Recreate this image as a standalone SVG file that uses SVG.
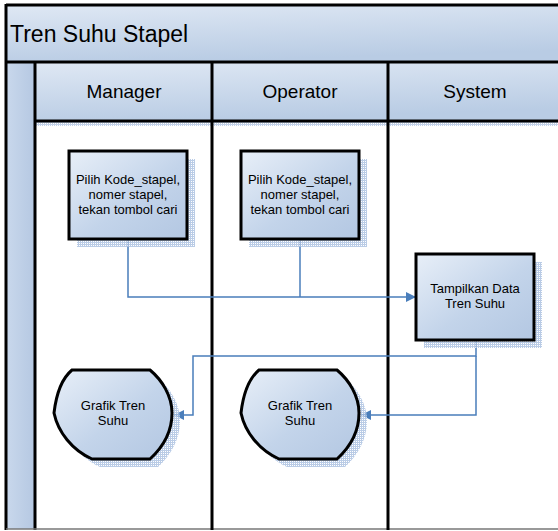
<svg xmlns="http://www.w3.org/2000/svg" width="558" height="531" viewBox="0 0 558 531">
<defs>
<linearGradient id="gBox" x1="0" y1="0" x2="1" y2="1">
<stop offset="0" stop-color="#e8eff8"/>
<stop offset="0.55" stop-color="#c3d4ea"/>
<stop offset="1" stop-color="#b3c7e2"/>
</linearGradient>
<linearGradient id="gHdr" x1="0" y1="0" x2="0.3" y2="1">
<stop offset="0" stop-color="#dfe8f4"/>
<stop offset="1" stop-color="#b9cce4"/>
</linearGradient>
<linearGradient id="gStrip" x1="0" y1="0" x2="1" y2="0">
<stop offset="0" stop-color="#c9d8ec"/>
<stop offset="1" stop-color="#b5c8e2"/>
</linearGradient>
<pattern id="hatch" width="2" height="2" patternUnits="userSpaceOnUse">
<rect width="2" height="2" fill="#ffffff"/>
<rect width="1" height="2" fill="#a9bfe0"/>
<rect width="2" height="1" fill="#a9bfe0"/>
</pattern>
<path id="disp" d="M72,370 L150,370 C162,380 172,396 172,413 C172,432 162,448 150,459 L92,459 C72,450 58,432 54,413 C56,396 60,380 72,370 Z"/>
<marker id="arr" viewBox="0 0 10 10" refX="10" refY="5" markerWidth="10" markerHeight="10" markerUnits="userSpaceOnUse" orient="auto">
<path d="M0,0 L10,5 L0,10 Z" fill="#4a7ebb"/>
</marker>
</defs>
<style>
.t{font-family:"Liberation Sans",Arial,sans-serif;fill:#000}
.box{fill:url(#gBox);stroke:#000;stroke-width:3}
.sh{fill:url(#hatch);opacity:0.8}
.ln{stroke:#000;stroke-width:3;fill:none}
.cn{stroke:#4a7ebb;stroke-width:1.5;fill:none}
</style>

<g id="pool">
<rect x="6" y="5" width="560" height="57" fill="url(#gHdr)"/>
<rect x="6" y="62" width="29" height="467" fill="url(#gStrip)"/>
<rect x="35" y="62" width="530" height="59" fill="url(#gHdr)"/>
<rect x="35" y="122" width="530" height="4" fill="url(#hatch)" opacity="0.7"/>
<text class="t" x="10" y="42" font-size="23">Tren Suhu Stapel</text>
<line class="ln" x1="6" y1="5" x2="558" y2="5" stroke-width="2" stroke="#333"/>
<line class="ln" x1="6" y1="62" x2="558" y2="62"/>
<line class="ln" x1="35" y1="121" x2="558" y2="121"/>
<line class="ln" x1="6" y1="4" x2="6" y2="530"/>
<line class="ln" x1="35" y1="62" x2="35" y2="530"/>
<line x1="6" y1="529" x2="558" y2="529" stroke="#777" stroke-width="1.5"/>
</g>
<g id="lane-manager">
<text class="t" x="124" y="98" font-size="19" text-anchor="middle">Manager</text>
</g>
<g id="lane-operator">
<line class="ln" x1="212" y1="62" x2="212" y2="530"/>
<text class="t" x="300" y="98" font-size="19" text-anchor="middle">Operator</text>
</g>
<g id="lane-system">
<line class="ln" x1="388" y1="62" x2="388" y2="530"/>
<text class="t" x="475" y="98" font-size="19" text-anchor="middle">System</text>
</g>

<g id="connectors">
<path class="cn" d="M128,239 V297 H416" marker-end="url(#arr)"/>
<path class="cn" d="M300,239 V297"/>
<path class="cn" d="M476,340 V356 H193 V415 H174" marker-end="url(#arr)"/>
<path class="cn" d="M476,356 V415 H361" marker-end="url(#arr)"/>
</g>

<g id="n-manager-input">
<rect class="sh" x="77" y="159" width="118" height="88"/>
<rect class="box" x="69" y="151" width="118" height="88"/>
<text class="t" font-size="13" text-anchor="middle"><tspan x="128" y="184">Pilih Kode_stapel,</tspan><tspan x="128" y="199">nomer stapel,</tspan><tspan x="128" y="214">tekan tombol cari</tspan></text>
</g>
<g id="n-operator-input">
<rect class="sh" x="249" y="159" width="118" height="88"/>
<rect class="box" x="241" y="151" width="118" height="88"/>
<text class="t" font-size="13" text-anchor="middle"><tspan x="300" y="184">Pilih Kode_stapel,</tspan><tspan x="300" y="199">nomer stapel,</tspan><tspan x="300" y="214">tekan tombol cari</tspan></text>
</g>
<g id="n-system-display">
<rect class="sh" x="424" y="262" width="118" height="86"/>
<rect class="box" x="416" y="254" width="118" height="86"/>
<text class="t" font-size="13" text-anchor="middle"><tspan x="475" y="293">Tampilkan Data</tspan><tspan x="475" y="308">Tren Suhu</tspan></text>
</g>
<g id="n-manager-grafik">
<use href="#disp" class="sh" transform="translate(8,8)"/>
<use href="#disp" class="box"/>
<text class="t" font-size="13" text-anchor="middle"><tspan x="113" y="410">Grafik Tren</tspan><tspan x="113" y="425">Suhu</tspan></text>
</g>
<g id="n-operator-grafik">
<use href="#disp" class="sh" transform="translate(195,8)"/>
<use href="#disp" class="box" transform="translate(187,0)"/>
<text class="t" font-size="13" text-anchor="middle"><tspan x="300" y="410">Grafik Tren</tspan><tspan x="300" y="425">Suhu</tspan></text>
</g>
</svg>
